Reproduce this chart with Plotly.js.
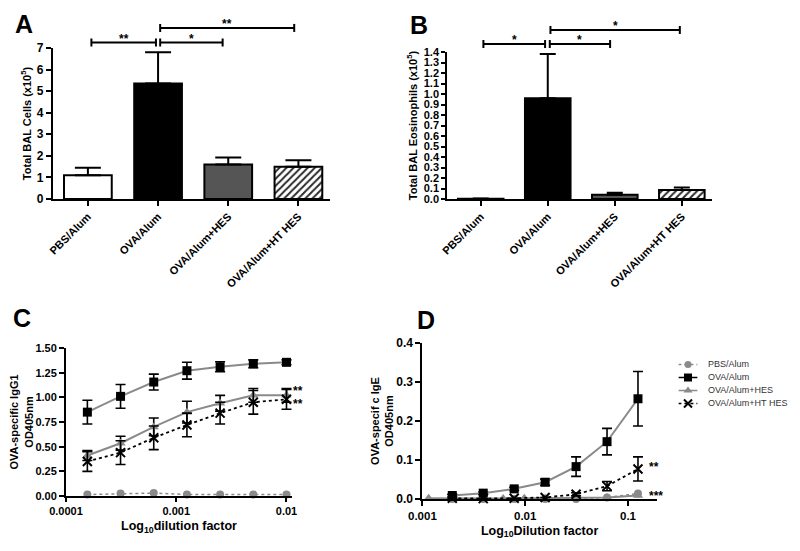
<!DOCTYPE html>
<html><head><meta charset="utf-8">
<script src="https://cdn.plot.ly/plotly-3.0.1.min.js"></script>
<style>html,body{margin:0;padding:0;background:#fff}</style>
</head><body><div id="chart" style="width:800px;height:551px"></div>
<script>
// ---------- data ----------
const groups = ['PBS/Alum', 'OVA/Alum', 'OVA/Alum+HES', 'OVA/Alum+HT HES'];
const cellsMean = [1.1, 5.35, 1.6, 1.5];
const cellsSem = [0.35, 1.45, 0.32, 0.3];
const eosMean = [0.003, 0.96, 0.04, 0.085];
const eosSem = [0.002, 0.42, 0.02, 0.025];

// significance brackets: [from, to, height, label]
const sigAFrom = [0.05, 1.03, 1.03];
const sigATo = [0.97, 1.92, 2.94];
const sigAY = [7.25, 7.25, 7.93];
const sigALabel = ['**', '*', '**'];
const sigBFrom = [0.04, 1.03, 1.04];
const sigBTo = [0.96, 1.93, 2.97];
const sigBY = [1.476, 1.476, 1.61];
const sigBLabel = ['*', '*', '*'];

// panel C: IgG1
const dilC = [1/6400, 1/3200, 1/1600, 1/800, 1/400, 1/200, 1/100];
const igg1PBS = [0.015, 0.025, 0.03, 0.015, 0.015, 0.015, 0.015];
const igg1OVA = [0.85, 1.01, 1.155, 1.27, 1.31, 1.34, 1.355];
const igg1OVAErr = [0.12, 0.12, 0.08, 0.085, 0.05, 0.04, 0.025];
const igg1HES = [0.41, 0.535, 0.70, 0.85, 0.94, 1.02, 1.02];
const igg1HESErr = [0.05, 0.07, 0.09, 0.11, 0.08, 0.07, 0.07];
const igg1HT = [0.35, 0.44, 0.59, 0.72, 0.84, 0.95, 0.98];
const igg1HTErr = [0.10, 0.12, 0.12, 0.12, 0.11, 0.12, 0.10];
const sigCY = [1.09, 0.96];
const sigCLabel = ['**', '**'];

// panel D: IgE
const dilD = [1/512, 1/256, 1/128, 1/64, 1/32, 1/16, 1/8];
const igePBS = [0.0, 0.0, 0.0, 0.0, 0.0, 0.004, 0.014];
const igeOVA = [0.009, 0.015, 0.026, 0.043, 0.083, 0.147, 0.257];
const igeOVAErr = [0.003, 0.003, 0.004, 0.008, 0.025, 0.034, 0.07];
const dilDHES = [0.00115, 1/512, 1/256, 0.0061, 0.0098, 1/64, 1/32, 1/16, 1/8];
const igeHES = [0.002, 0.001, 0.001, 0.001, 0.002, 0.002, 0.003, 0.004, 0.009];
const igeHT = [0.002, 0.001, 0.002, 0.004, 0.012, 0.033, 0.077];
const igeHTErr = [0, 0, 0, 0, 0.004, 0.012, 0.031];
const sigDY = [0.09, 0.015];
const sigDLabel = ['**', '***'];

const legendNames = ['PBS/Alum', 'OVA/Alum', 'OVA/Alum+HES', 'OVA/Alum+HT HES'];

// ---------- styles ----------
const FONT = 'Liberation Sans, Arial, Helvetica, sans-serif';
const GREY = '#8a8a8a';
const barColors = ['#ffffff', '#000000', '#555555', '#ffffff'];
const zeros = n => new Array(n).fill(0);

const traces = [];

function barTraces(mean, sem, xa, ya, capW) {
  const plainIdx = [0, 1, 2];
  traces.push({
    type: 'bar', x: plainIdx.map(i => groups[i]), y: plainIdx.map(i => mean[i]), xaxis: xa, yaxis: ya, width: 0.68,
    marker: {color: plainIdx.map(i => barColors[i]), line: {color: '#000', width: 2}},
    error_y: {type: 'data', symmetric: false, array: plainIdx.map(i => sem[i]), arrayminus: zeros(3),
              color: '#000', thickness: 2, width: capW},
    showlegend: false, hoverinfo: 'skip'
  });
  traces.push({
    type: 'bar', x: [groups[3]], y: [mean[3]], xaxis: xa, yaxis: ya, width: 0.68,
    marker: {color: '#ffffff', line: {color: '#000', width: 2},
             pattern: {shape: '/', fgcolor: '#2a2a2a', bgcolor: '#ffffff', size: 5, solidity: 0.4, fillmode: 'replace'}},
    error_y: {type: 'data', symmetric: false, array: [sem[3]], arrayminus: [0],
              color: '#000', thickness: 2, width: capW},
    showlegend: false, hoverinfo: 'skip'
  });
}
barTraces(cellsMean, cellsSem, 'x', 'y', 13);
barTraces(eosMean, eosSem, 'x2', 'y2', 8);

// line series styles
const sty = {
  pbs: {line: {color: GREY, width: 1.5, dash: 'dot'}, marker: {symbol: 'circle', size: 8, color: GREY}},
  ova: {line: {color: GREY, width: 2}, marker: {symbol: 'square', size: 9, color: '#000'}},
  hes: {line: {color: GREY, width: 2}, marker: {symbol: 'triangle-up', size: 9, color: GREY}},
  ht: {line: {color: '#000', width: 1.8, dash: 'dot'}, marker: {symbol: 'x-thin-open', size: 9, color: '#000', line: {color: '#000', width: 2}}}
};
function series(x, y, err, s, xa, ya, ew) {
  const t = {type: 'scatter', mode: 'lines+markers', x: x, y: y, xaxis: xa, yaxis: ya,
             line: s.line, marker: s.marker, cliponaxis: false, showlegend: false, hoverinfo: 'skip'};
  if (err) t.error_y = {type: 'data', array: err, color: '#000', thickness: 1.6, width: ew};
  return t;
}
// Panel C
traces.push(series(dilC, igg1PBS, null, sty.pbs, 'x3', 'y3'));
traces.push(series(dilC, igg1OVA, igg1OVAErr, sty.ova, 'x3', 'y3', 5));
traces.push(series(dilC, igg1HES, igg1HESErr, sty.hes, 'x3', 'y3', 5));
traces.push(series(dilC, igg1HT, igg1HTErr, sty.ht, 'x3', 'y3', 5));
// Panel D
traces.push(series(dilD, igePBS, null, sty.pbs, 'x4', 'y4'));
traces.push(series(dilDHES, igeHES, null, sty.hes, 'x4', 'y4'));
traces.push(series(dilD, igeOVA, igeOVAErr, sty.ova, 'x4', 'y4', 5));
traces.push(series(dilD, igeHT, igeHTErr, sty.ht, 'x4', 'y4', 5));

// custom compact legend (samples)
const legStyles = [sty.pbs, {line: {color: '#000', width: 2}, marker: sty.ova.marker}, sty.hes, sty.ht];
legStyles.forEach((s, i) => {
  const row = 3 - i;
  traces.push({type: 'scatter', mode: 'lines', x: [0, 1], y: [row, row], xaxis: 'x5', yaxis: 'y5',
               line: Object.assign({}, s.line, {width: Math.min(s.line.width, 1.6)}), showlegend: false, hoverinfo: 'skip', cliponaxis: false});
  traces.push({type: 'scatter', mode: 'markers', x: [0.5], y: [row], xaxis: 'x5', yaxis: 'y5',
               marker: Object.assign({}, s.marker, {size: s.marker.size - 1}), showlegend: false, hoverinfo: 'skip', cliponaxis: false});
});

// ---------- axes ----------
const tickBold = (size) => ({family: FONT, size: size, color: '#000', weight: 'bold'});
const titleFont = (size) => ({family: FONT, size: size, color: '#000', weight: 'bold'});
const baseAxis = {showline: true, linewidth: 2, linecolor: '#000', ticks: 'outside', ticklen: 5,
                  tickwidth: 2, tickcolor: '#000', showgrid: false, zeroline: false, fixedrange: true};

const layout = {
  width: 800, height: 551, margin: {l: 0, r: 0, t: 0, b: 0},
  paper_bgcolor: '#fff', plot_bgcolor: 'rgba(0,0,0,0)', showlegend: false, barmode: 'overlay',
  font: {family: FONT, color: '#000'},
  xaxis: Object.assign({}, baseAxis, {domain: [0.066, 0.4125], anchor: 'y', type: 'category',
         categoryorder: 'array', categoryarray: groups,
         range: [-0.5, 3.45], tickangle: -45, tickfont: tickBold(11)}),
  yaxis: Object.assign({}, baseAxis, {domain: [0.6388, 0.9129], anchor: 'x', range: [0, 7], dtick: 1,
         tickfont: tickBold(12), title: {text: 'Total BAL Cells (x10<sup>5</sup>)', font: titleFont(11), standoff: 3}}),
  xaxis2: Object.assign({}, baseAxis, {domain: [0.559, 0.89], anchor: 'y2', type: 'category',
         categoryorder: 'array', categoryarray: groups,
         range: [-0.5, 3.45], tickangle: -45, tickfont: tickBold(11)}),
  yaxis2: Object.assign({}, baseAxis, {domain: [0.6388, 0.9056], anchor: 'x2', range: [0, 1.4], dtick: 0.1,
         tickformat: '.1f', tickfont: tickBold(11), ticklen: 4,
         title: {text: 'Total BAL Eosinophils (x10<sup>5</sup>)', font: titleFont(11), standoff: 4}}),
  xaxis3: Object.assign({}, baseAxis, {domain: [0.0825, 0.365], anchor: 'y3', type: 'log',
         range: [-4, -1.95], tickvals: [0.0001, 0.001, 0.01], ticktext: ['0.0001', '0.001', '0.01'],
         ticklen: 4, tickfont: tickBold(11), title: {text: 'Log<sub>10</sub>dilution factor', font: titleFont(12.5), standoff: 5}}),
  yaxis3: Object.assign({}, baseAxis, {domain: [0.0998, 0.3684], anchor: 'x3', range: [0, 1.5], dtick: 0.25,
         tickformat: '.2f', tickfont: tickBold(11),
         title: {text: 'OVA-specific IgG1<br>OD405nm', font: titleFont(11), standoff: 0}}),
  xaxis4: Object.assign({}, baseAxis, {domain: [0.528, 0.821], anchor: 'y4', type: 'log',
         range: [-3, -0.72], tickvals: [0.001, 0.01, 0.1], ticktext: ['0.001', '0.01', '0.1'],
         ticklen: 5, tickfont: tickBold(11.5), title: {text: 'Log<sub>10</sub>Dilution factor', font: titleFont(12.5), standoff: 5}}),
  yaxis4: Object.assign({}, baseAxis, {domain: [0.0944, 0.3775], anchor: 'x4', range: [0, 0.4], dtick: 0.1,
         tickformat: '.1f', tickfont: tickBold(12),
         title: {text: 'OVA-specif c IgE<br>OD405nm', font: titleFont(11), standoff: 0}}),
  xaxis5: {domain: [0.848, 0.872], anchor: 'y5', range: [0, 1], visible: false, fixedrange: true},
  yaxis5: {domain: [0.2559, 0.3503], anchor: 'x5', range: [-0.5, 3.5], visible: false, fixedrange: true},
  shapes: [], annotations: []
};

// significance brackets
function addBrackets(xref, yref, from, to, ys, labels, ymax, pxPerDomain) {
  const cap = 4 / pxPerDomain;
  for (let i = 0; i < from.length; i++) {
    const yd = ys[i] / ymax;
    const ln = {color: '#000', width: 2};
    layout.shapes.push({type: 'line', xref: xref, yref: yref + ' domain', x0: from[i], x1: to[i], y0: yd, y1: yd, line: ln});
    layout.shapes.push({type: 'line', xref: xref, yref: yref + ' domain', x0: from[i], x1: from[i], y0: yd - cap, y1: yd + cap, line: ln});
    layout.shapes.push({type: 'line', xref: xref, yref: yref + ' domain', x0: to[i], x1: to[i], y0: yd - cap, y1: yd + cap, line: ln});
    layout.annotations.push({xref: xref, yref: yref + ' domain', x: (from[i] + to[i]) / 2, y: yd,
      text: labels[i], showarrow: false, yanchor: 'bottom', yshift: -5, font: {family: FONT, size: 12, weight: 'bold', color: '#000'}});
  }
}
addBrackets('x', 'y', sigAFrom, sigATo, sigAY, sigALabel, 7, 151);
addBrackets('x2', 'y2', sigBFrom, sigBTo, sigBY, sigBLabel, 1.4, 147);

// asterisks next to curves
sigCY.forEach((y, i) => layout.annotations.push({xref: 'x3', yref: 'y3', x: -1.955, y: y, text: sigCLabel[i],
  showarrow: false, xanchor: 'left', yanchor: 'middle', yshift: -3, font: {family: FONT, size: 12, weight: 'bold', color: '#000'}}));
sigDY.forEach((y, i) => layout.annotations.push({xref: 'x4', yref: 'y4', x: -0.82, y: y, text: sigDLabel[i],
  showarrow: false, xanchor: 'left', yanchor: 'middle', yshift: -3, font: {family: FONT, size: 12, weight: 'bold', color: '#000'}}));

// legend labels
legendNames.forEach((n, i) => layout.annotations.push({xref: 'paper', yref: 'y5', x: 0.883, y: 3 - i, text: n,
  showarrow: false, xanchor: 'left', yanchor: 'middle', font: {family: FONT, size: 9, color: '#333'}}));

// panel letters
[['A', 24, 24], ['B', 419, 25], ['C', 22, 318], ['D', 426, 320]].forEach(p => layout.annotations.push({
  xref: 'paper', yref: 'paper', x: p[1] / 800, y: 1 - p[2] / 551, text: p[0], showarrow: false,
  xanchor: 'center', yanchor: 'middle', font: {family: FONT, size: 25, weight: 'bold', color: '#000'}}));

Plotly.newPlot('chart', traces, layout, {staticPlot: true, displayModeBar: false});
</script>
</body></html>
